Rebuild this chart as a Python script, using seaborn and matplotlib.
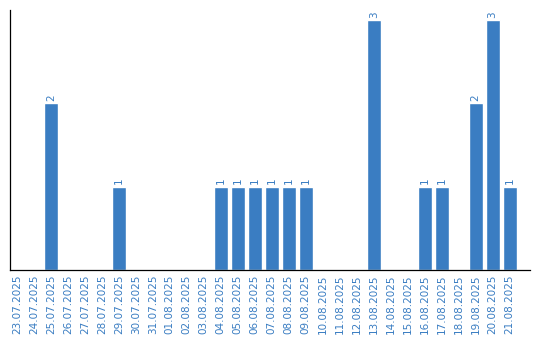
import matplotlib
matplotlib.use("Agg")
import matplotlib.pyplot as plt
import seaborn as sns
import pandas as pd

dates = ["23.07.2025", "24.07.2025", "25.07.2025", "26.07.2025", "27.07.2025",
         "28.07.2025", "29.07.2025", "30.07.2025", "31.07.2025", "01.08.2025",
         "02.08.2025", "03.08.2025", "04.08.2025", "05.08.2025", "06.08.2025",
         "07.08.2025", "08.08.2025", "09.08.2025", "10.08.2025", "11.08.2025",
         "12.08.2025", "13.08.2025", "14.08.2025", "15.08.2025", "16.08.2025",
         "17.08.2025", "18.08.2025", "19.08.2025", "20.08.2025", "21.08.2025"]
counts = [0, 0, 2, 0, 0, 0, 1, 0, 0, 0, 0, 0, 1, 1, 1, 1, 1, 1, 0, 0,
          0, 3, 0, 0, 1, 1, 0, 2, 3, 1]

df = pd.DataFrame({"date": dates, "count": counts})
color = "#3a7dc2"

sns.set_style("white")
fig = plt.figure(figsize=(5.4, 3.4), dpi=100)
ax = fig.add_axes([10/540, 70/340, 520/540, 260/340])
sns.barplot(data=df, x="date", y="count", color=color, width=0.82,
            saturation=1, ax=ax)

for i, v in enumerate(counts):
    if v > 0:
        ax.text(i, v + 0.03, str(v), rotation=90, ha="center", va="bottom",
                color=color, fontsize=7.5)

ax.set_xlim(-0.41, 30.2)
ax.set_ylim(0, 3.12)
ax.set_xlabel("")
ax.set_ylabel("")
ax.set_yticks([])
ax.tick_params(axis="x", length=0, pad=3, labelsize=7.5, labelcolor=color)
plt.setp(ax.get_xticklabels(), rotation=90)
for s in ["top", "right"]:
    ax.spines[s].set_visible(False)
for s in ["left", "bottom"]:
    ax.spines[s].set_color("black")
    ax.spines[s].set_linewidth(0.9)

fig.savefig("out.png", dpi=100)
